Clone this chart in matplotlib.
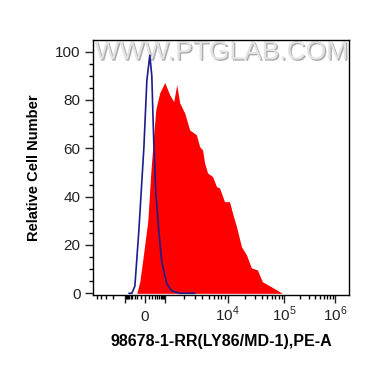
import numpy as np
import matplotlib
matplotlib.use('Agg')
import matplotlib.pyplot as plt
import matplotlib.patheffects as pe

plt.rcParams['font.family'] = ['Liberation Sans', 'DejaVu Sans']
plt.rcParams['mathtext.fontset'] = 'custom'
plt.rcParams['mathtext.rm'] = 'Liberation Sans'

# stained sample (red fill), fluorescence value vs relative count
red_x = [-300, -214, -122, -47, 71, 150, 247, 328, 547, 1000, 1202, 1393, 1556, 1738,
         2086, 2504, 3200, 3608, 4020, 4320, 4820, 5790, 6700, 7470, 8970, 10840,
         12240, 14390, 17600, 21550, 26360, 33600, 41100, 59100, 92200]
red_y = [0, 0, 5, 14, 30, 50, 66, 76, 83, 87.2, 82.1, 79.3, 86.3, 78.8,
         74.6, 67.6, 65.6, 60.7, 59.3, 54, 49.8, 48.3, 44.1, 43.6, 37.9, 37.9,
         33.2, 27.6, 19.3, 15.9, 10.5, 9.7, 4.8, 2.7, 0]
# control (blue line)
blue_x = [-600, -427, -286, -150, -23, 47, 122, 180, 247, 328, 485, 699, 1076, 1294, 1738, 3000]
blue_y = [0, 0, 3, 26, 60, 88, 98.5, 90, 62, 42, 26, 13, 4, 1, 0, 0]

xtick_vals = [0, 1e4, 1e5, 1e6]
xtick_labels = ['0', '$10^4$', '$10^5$', '$10^6$']

# display transform (biexponential-like axis, knots)
G_K = np.array([-3, -1.699, -1.004, 0, 1.004, 2, 3, 4, 5])
P_K = np.array([44.6, 97, 125, 145, 165, 228, 285, 336, 387])

def fwd(v):
    g = np.arcsinh(np.asarray(v, dtype=float) / 200) / np.log(10)
    return np.interp(g, G_K, P_K)

def inv(p):
    g = np.interp(np.asarray(p, dtype=float), P_K, G_K)
    return 200 * np.sinh(g * np.log(10))

fig = plt.figure(figsize=(3.7, 3.67), dpi=100)
ax = fig.add_axes([93/370, 72/367, 256/370, 255.5/367])
ax.set_xscale('function', functions=(fwd, inv))

ax.fill_between(red_x, red_y, 0, color='#ff0000', lw=0, zorder=2)
ax.plot(blue_x, blue_y, color='#1c1c8c', lw=1.2, zorder=3)

ax.set_xlim(-6300, 1.88e6)
ax.set_ylim(-0.7, 105)

ax.set_xticks([-1e3, 0, 1e3] + xtick_vals[1:])
ax.set_xticklabels(['', '0', ''] + xtick_labels[1:])
minor = ([-5000, -4000, -3000, -2000] + [-k*100 for k in range(1, 10)] +
         [k*100 for k in range(1, 10)] + [k*1000 for k in range(2, 10)] +
         [k*10000 for k in range(2, 10)] + [k*100000 for k in range(2, 10)])
ax.set_xticks(minor, minor=True)
ax.set_yticks([0, 20, 40, 60, 80, 100])
ax.set_yticks(np.arange(0, 105, 5), minor=True)

ax.tick_params(axis='both', which='major', length=6, width=1, labelsize=11, colors='#222222')
ax.tick_params(axis='x', which='major', pad=13)
ax.tick_params(axis='y', which='major', pad=3)
ax.tick_params(axis='both', which='minor', length=3, width=1)
for lbl in ax.get_xticklabels():
    lbl.set_va('baseline')
for s in ax.spines.values():
    s.set_linewidth(1)

ax.set_ylabel('Relative Cell Number', fontsize=10.5, fontweight='bold', labelpad=10)
ax.set_xlabel('98678-1-RR(LY86/MD-1),PE-A', fontsize=11.5, fontweight='bold', labelpad=7)

ax.text(0.5, 0.95, 'WWW.PTGLAB.COM', transform=ax.transAxes, ha='center', va='center',
        fontsize=19, color='#e4e4e4', zorder=1,
        path_effects=[pe.withSimplePatchShadow(offset=(1, -1), shadow_rgbFace='#9a9a9a', alpha=0.8)])

fig.savefig('out.png', dpi=100)
